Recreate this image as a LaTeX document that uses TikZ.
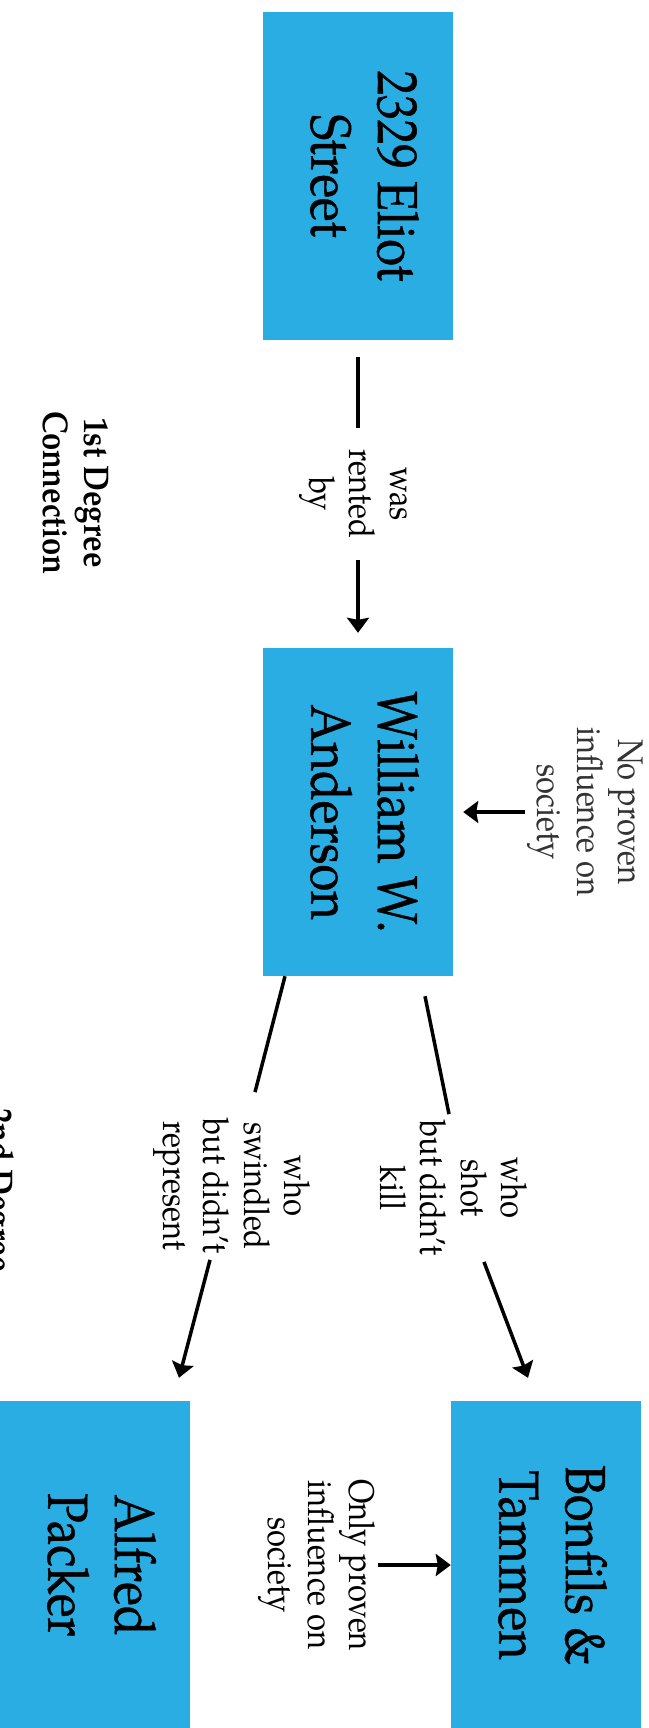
\documentclass[tikz,border=0pt]{standalone}
\usepackage{fontspec}
\setmainfont{TeX Gyre Pagella}
\newfontfamily\boxfont{TeX Gyre Pagella}[FakeBold=0.8]
\usepackage{graphicx}
\usetikzlibrary{arrows.meta}

\definecolor{boxblue}{RGB}{41,173,226}
\newcommand{\sidetext}[1]{\rotatebox{-90}{\scalebox{1}[1.15]{\begin{tabular}{@{}c@{}}#1\end{tabular}}}}

\begin{document}
\begin{tikzpicture}[x=1pt,y=-1pt,
        box/.style={fill=boxblue, minimum width=190pt, minimum height=328pt, inner sep=0pt,
            font=\boxfont\fontsize{49}{58}\selectfont},
        lbl/.style={inner sep=0pt, font=\fontsize{31}{35}\selectfont},
        conn/.style={line width=3.5pt, -{Stealth[length=15pt,width=22pt,inset=2pt]}},
        plain/.style={line width=3.5pt}]
    \useasboundingbox (0,0) rectangle (648,1728);

        \node[box] (eliot) at (358,176) {\sidetext{2329 Eliot\\Street}};
        \node[box] (anderson) at (358,812) {\sidetext{William W.\\Anderson}};
        \node[box] (bonfils) at (546,1565) {\sidetext{Bonfils \&\\Tammen}};
        \node[box] (packer) at (95,1565) {\sidetext{Alfred\\Packer}};

        \node[lbl, font=\fontsize{31}{35}\selectfont\bfseries] (firstdeg) at (72,493) {\sidetext{1st Degree\\Connection}};
        \node[lbl, font=\fontsize{31}{35}\selectfont\bfseries] (seconddeg) at (-24,1190) {\sidetext{2nd Degree\\Connection}};

        \node[lbl, text=black!80] (noinfl) at (586,812) {\sidetext{No proven\\influence on\\society}};
        \node[lbl] (onlyinfl) at (317,1565) {\sidetext{Only proven\\influence on\\society}};
        \node[lbl, inner ysep=6pt] (shot) at (449,1188) {\sidetext{who\\shot\\but didn't\\kill}};
        \node[lbl, inner ysep=6pt] (swindled) at (232,1186) {\sidetext{who\\swindled\\but didn't\\represent}};

        % 1st degree
        \draw[conn, shorten <=17pt, shorten >=15pt] (eliot) -- node[lbl, fill=white, inner xsep=2pt, inner ysep=21pt] (rented) {\sidetext{was\\rented\\by}} (anderson);
        \draw[conn, shorten >=10pt] (noinfl) -- (anderson);

        % 2nd degree
        \draw[plain] ([xshift=67pt,yshift=-20pt]anderson.south) -- (shot.north);
        \draw[conn] ([xshift=35pt]shot.south) -- ([xshift=-18pt,yshift=23pt]bonfils.north);
        \draw[plain] ([xshift=-73pt]anderson.south) -- ([xshift=23pt,yshift=20pt]swindled.north);
        \draw[conn] ([xshift=-22pt]swindled.south) -- ([xshift=84pt,yshift=23pt]packer.north);
        \draw[conn] (onlyinfl) -- (bonfils);
    \end{tikzpicture}
\end{document}
